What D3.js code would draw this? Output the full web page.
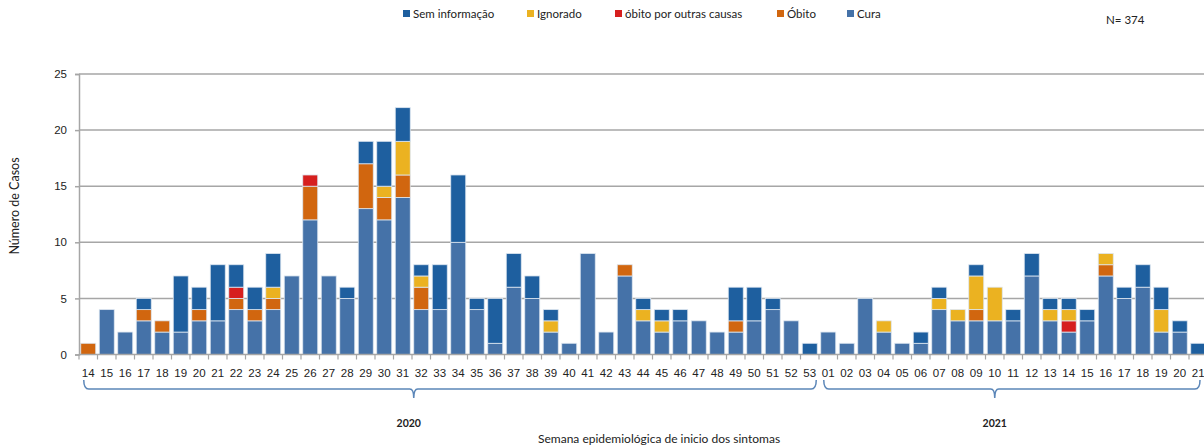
<!DOCTYPE html>
<html>
<head>
<meta charset="utf-8">
<script src="https://cdn.jsdelivr.net/npm/d3@7"></script>
<style>
  body { margin: 0; background: #fff; }
  svg { font-family: Lato, "Open Sans", sans-serif; }
  .tick text { font-size: 11.5px; fill: #222; }
  .legend text { font-size: 11.5px; fill: #222; }
</style>
</head>
<body>
<svg id="chart" width="1204" height="447"></svg>
<script>
// epi weeks (2020: 14-53, 2021: 01-21)
var years = [];
var weeks = [];
for (var w = 14; w <= 53; w++) { years.push("2020"); weeks.push(String(w)); }
for (var w = 1; w <= 21; w++) { years.push("2021"); weeks.push(w < 10 ? "0" + w : String(w)); }

var cura = [0,4,2,3,2,2,3,3,4,3,4,7,12,7,5,13,12,14,4,4,10,4,1,6,5,2,1,9,2,7,3,2,3,3,2,2,3,4,3,0,
            2,1,5,2,1,1,4,3,3,3,3,7,3,2,3,7,5,6,2,2,0];
var obito = [1,0,0,1,1,0,1,0,1,1,1,0,3,0,0,4,2,2,2,0,0,0,0,0,0,0,0,0,0,1,0,0,0,0,0,1,0,0,0,0,
             0,0,0,0,0,0,0,0,1,0,0,0,0,0,0,1,0,0,0,0,0];
var outras = [0,0,0,0,0,0,0,0,1,0,0,0,1,0,0,0,0,0,0,0,0,0,0,0,0,0,0,0,0,0,0,0,0,0,0,0,0,0,0,0,
              0,0,0,0,0,0,0,0,0,0,0,0,0,1,0,0,0,0,0,0,0];
var ignorado = [0,0,0,0,0,0,0,0,0,0,1,0,0,0,0,0,1,3,1,0,0,0,0,0,0,1,0,0,0,0,1,1,0,0,0,0,0,0,0,0,
                0,0,0,1,0,0,1,1,3,3,0,0,1,1,0,1,0,0,2,0,0];
var semInfo = [0,0,0,1,0,5,2,5,2,2,3,0,0,0,1,2,4,3,1,4,6,1,4,3,2,1,0,0,0,0,1,1,1,0,0,3,3,1,0,1,
               0,0,0,0,0,1,1,0,1,0,1,2,1,1,1,0,1,2,2,1,1];

var seriesNames = ["Cura", "Óbito", "óbito por outras causas", "Ignorado", "Sem informação"];
var seriesColors = ["#4572a8", "#d1660f", "#d61f1e", "#ebb221", "#1e5f9f"];
var legendOrder = ["Sem informação", "Ignorado", "óbito por outras causas", "Óbito", "Cura"];
var yearList = ["2020", "2021"];
var bracketMid = ["2020-32", "2021-10"];  // week where each year's brace points
var total = 374;

var svg = d3.select("#chart");
var keys = weeks.map(function(d, i) { return years[i] + "-" + d; });
var table = keys.map(function(k, i) {
  return {key: k, "Cura": cura[i], "Óbito": obito[i], "óbito por outras causas": outras[i],
          "Ignorado": ignorado[i], "Sem informação": semInfo[i]};
});
var stacked = d3.stack().keys(seriesNames)(table);

var x = d3.scaleBand()
  .domain(keys)
  .range([79, 1207.5])
  .paddingInner(0.19)
  .paddingOuter(0.095);
var y = d3.scaleLinear()
  .domain([0, 25])
  .range([354.5, 74]);
var color = d3.scaleOrdinal().domain(seriesNames).range(seriesColors);

// grid
svg.append("g")
  .selectAll("line")
  .data(y.ticks(5).filter(function(d) { return d > 0; }))
  .enter()
  .append("line")
  .attr("x1", 79)
  .attr("x2", 1204)
  .attr("y1", function(d) { return y(d); })
  .attr("y2", function(d) { return y(d); })
  .style("stroke", "#a6a6a6")
  .style("stroke-width", 1.5);

// bars
svg.append("g")
  .selectAll("g")
  .data(stacked)
  .enter()
  .append("g")
  .style("fill", function(d) { return color(d.key); })
  .selectAll("rect")
  .data(function(d) { return d; })
  .enter()
  .append("rect")
  .attr("x", function(d) { return x(d.data.key); })
  .attr("width", x.bandwidth())
  .attr("y", function(d) { return y(d[1]); })
  .attr("height", function(d) { return y(d[0]) - y(d[1]); })
  .style("stroke", "#dde6f0")
  .style("stroke-width", 0.8)
  .style("stroke-opacity", function(d) { return d[1] > d[0] ? 1 : 0; });

// y axis
var yAxis = svg.append("g")
  .attr("transform", "translate(79,0)")
  .call(d3.axisLeft(y).ticks(5).tickSize(4).tickPadding(8));
yAxis.select(".domain").style("stroke", "#a6a6a6").style("stroke-width", 1.5);
yAxis.selectAll(".tick line").style("stroke", "#a6a6a6").style("stroke-width", 1.5);

// x axis, ticks between categories
var xAxis = svg.append("g")
  .attr("transform", "translate(0," + y(0) + ")")
  .call(d3.axisBottom(x).tickSize(0).tickPadding(12)
    .tickFormat(function(d) { return d.split("-")[1]; }));
xAxis.select(".domain").attr("d", "M79,0H1204").style("stroke", "#a6a6a6").style("stroke-width", 1.5);
xAxis.selectAll(".tick text").attr("dy", "0.9em");
xAxis.selectAll("sepTicks")
  .data(keys)
  .enter()
  .append("line")
  .attr("x1", function(d) { return x(d) - x.step() * x.paddingInner() / 2; })
  .attr("x2", function(d) { return x(d) - x.step() * x.paddingInner() / 2; })
  .attr("y1", 0)
  .attr("y2", 5)
  .style("stroke", "#a6a6a6")
  .style("stroke-width", 1.2);

// year brackets
yearList.forEach(function(yr, i) {
  var ks = keys.filter(function(k) { return k.indexOf(yr) === 0; });
  var x0 = x(ks[0]) + 3;
  var x1 = Math.min(x(ks[ks.length - 1]) + x.bandwidth() - 1, 1200);
  var xm = x(bracketMid[i]) + (i === 0 ? 0 : x.bandwidth() / 2);
  var top = 380, mid = 389;
  svg.append("path")
    .attr("d", "M" + x0 + "," + top + " Q" + x0 + "," + mid + " " + (x0 + 5) + "," + mid +
      " H" + (xm - 4) + " Q" + xm + "," + mid + " " + xm + "," + (mid + 9) +
      " Q" + xm + "," + mid + " " + (xm + 4) + "," + mid +
      " H" + (x1 - 5) + " Q" + x1 + "," + mid + " " + x1 + "," + top)
    .style("fill", "none")
    .style("stroke", "#5b86b8")
    .style("stroke-width", 1.5);
  svg.append("text")
    .attr("x", xm - (i === 0 ? 5 : 0))
    .attr("y", 427)
    .text(yr)
    .style("font-size", "10.5px")
    .style("font-weight", "bold")
    .style("fill", "#222")
    .style("text-anchor", "middle");
});

// axis titles
svg.append("text")
  .attr("x", 538)
  .attr("y", 443)
  .text("Semana epidemiológica de inicio dos sintomas")
  .style("font-size", "12px")
  .style("fill", "#222");
svg.append("text")
  .attr("transform", "translate(19,206) rotate(-90)")
  .text("Número de Casos")
  .style("font-size", "12.5px")
  .style("fill", "#222")
  .style("text-anchor", "middle");

// legend
var legendX = [403, 527, 615, 777, 847];
var legend = svg.append("g").attr("class", "legend")
  .selectAll("g")
  .data(legendOrder)
  .enter()
  .append("g")
  .attr("transform", function(d, i) { return "translate(" + legendX[i] + ",14)"; });
legend.append("rect")
  .attr("x", 0)
  .attr("y", -4)
  .attr("width", 7)
  .attr("height", 7)
  .style("fill", function(d) { return color(d); });
legend.append("text")
  .attr("x", 10)
  .attr("y", 4)
  .text(function(d) { return d; });

svg.append("text")
  .attr("x", 1106)
  .attr("y", 24)
  .text("N= " + total)
  .style("font-size", "11.5px")
  .style("fill", "#222");
</script>
</body>
</html>
